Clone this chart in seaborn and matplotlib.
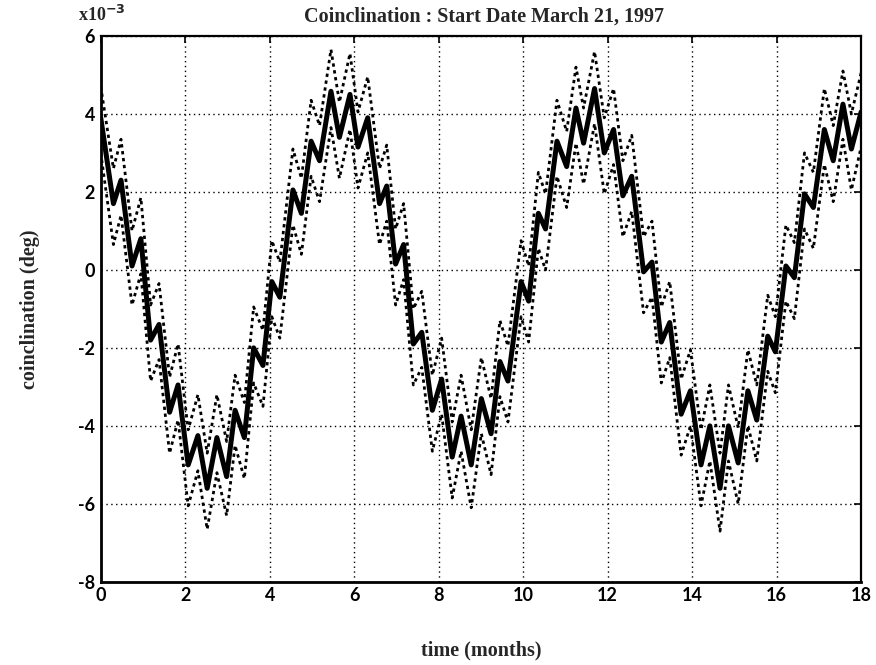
import numpy as np
import pandas as pd
import seaborn as sns
import matplotlib.pyplot as plt

# time (months) of each peak / trough
months = [0.00, 0.30, 0.48, 0.74, 0.95, 1.18, 1.38, 1.63, 1.83, 2.07, 2.30, 2.52, 2.75, 2.98,
          3.18, 3.40, 3.62, 3.84, 4.05, 4.24, 4.55, 4.75, 4.98, 5.18, 5.45, 5.65, 5.90, 6.09,
          6.32, 6.60, 6.77, 6.98, 7.17, 7.40, 7.60, 7.85, 8.07, 8.32, 8.53, 8.77, 9.01, 9.24,
          9.45, 9.64, 9.95, 10.13, 10.36, 10.53, 10.80, 11.03, 11.25, 11.43, 11.69, 11.92,
          12.14, 12.36, 12.57, 12.85, 13.05, 13.27, 13.47, 13.74, 13.96, 14.21, 14.42, 14.66,
          14.86, 15.09, 15.32, 15.53, 15.79, 15.97, 16.22, 16.42, 16.66, 16.87, 17.13, 17.34,
          17.57, 17.77, 18.00]

# nominal coinclination (x1e-3 deg)
nominal = [3.9, 1.7, 2.3, 0.1, 0.8, -1.8, -1.4, -3.65, -2.95, -5.0, -4.25, -5.6, -4.3, -5.3,
           -3.6, -4.3, -2.0, -2.45, -0.3, -0.7, 2.05, 1.45, 3.3, 2.8, 4.58, 3.4, 4.5, 3.15,
           3.9, 1.7, 2.15, 0.15, 0.65, -1.9, -1.6, -3.6, -2.8, -4.8, -3.75, -5.0, -3.3, -4.2,
           -2.35, -2.85, -0.3, -0.8, 1.45, 1.05, 3.3, 2.65, 4.15, 3.25, 4.65, 3.0,
           3.6, 1.9, 2.4, -0.05, 0.2, -1.85, -1.35, -3.7, -3.1, -5.0, -4.0, -5.6,
           -4.0, -4.95, -3.1, -3.85, -1.7, -2.1, 0.1, -0.2, 1.95, 1.6, 3.6, 2.8,
           4.25, 3.1, 4.05]

# upper and lower dotted bounds
upper = [4.7, 2.6, 3.35, 1.0, 1.85, -0.9, -0.35, -2.75, -1.9, -4.1, -3.2, -4.7, -3.2, -4.4,
         -2.7, -3.4, -0.95, -1.55, 0.75, 0.2, 3.1, 2.35, 4.35, 3.7, 5.65, 4.3, 5.55, 4.05,
         4.95, 2.6, 3.2, 1.05, 1.7, -1.0, -0.55, -2.7, -1.75, -3.9, -2.7, -4.1, -2.25, -3.3,
         -1.3, -1.95, 0.75, 0.1, 2.5, 1.95, 4.35, 3.55, 5.2, 4.15, 5.6, 3.9,
         4.65, 2.8, 3.45, 0.85, 1.25, -0.95, -0.3, -2.8, -2.05, -4.1, -2.95, -4.7,
         -2.95, -4.05, -2.05, -2.95, -0.65, -1.2, 1.15, 0.7, 3.0, 2.5, 4.65, 3.7,
         5.1, 4.0, 5.05]

lower = [3.0, 0.65, 1.4, -0.9, -0.1, -2.85, -2.3, -4.7, -3.85, -6.05, -5.15, -6.65, -5.2, -6.3,
         -4.5, -5.35, -2.9, -3.5, -1.2, -1.75, 1.15, 0.4, 2.4, 1.75, 3.65, 2.35, 3.6, 2.1,
         3.0, 0.65, 1.25, -0.9, -0.25, -2.95, -2.5, -4.65, -3.7, -5.85, -4.65, -6.1, -4.2, -5.25,
         -3.25, -3.9, -1.2, -1.85, 0.55, 0.0, 2.4, 1.6, 3.25, 2.2, 3.75, 1.95,
         2.7, 0.85, 1.5, -1.1, -0.7, -2.9, -2.25, -4.75, -4.0, -6.05, -4.9, -6.7,
         -4.9, -6.0, -4.0, -4.9, -2.6, -3.15, -0.8, -1.25, 1.05, 0.55, 2.7, 1.75,
         3.35, 2.05, 3.15]

x_ticks = [0, 2, 4, 6, 8, 10, 12, 14, 16, 18]
y_ticks = [-8, -6, -4, -2, 0, 2, 4, 6]

df = pd.DataFrame({'months': months, 'nominal': nominal, 'upper': upper, 'lower': lower})

sns.set_style('white')
plt.rcParams['font.family'] = ['Liberation Serif', 'DejaVu Serif']

fig = plt.figure(figsize=(8.76, 6.65), dpi=100)
ax = fig.add_axes([0.115, 0.125, 0.868, 0.821])

# dotted bounds first, nominal on top
for col in ['upper', 'lower']:
    sns.lineplot(data=df, x='months', y=col, ax=ax, color='black', linestyle=(0, (1.2, 1.3)),
                 linewidth=2.0, estimator=None, sort=False)
sns.lineplot(data=df, x='months', y='nominal', ax=ax, color='black', linewidth=3.6,
             estimator=None, sort=False)

ax.set_xlim(0, 18)
ax.set_ylim(-8, 6)
ax.set_xticks(x_ticks)
ax.set_yticks(y_ticks)
tick_font = dict(family='Lato', weight='bold', size=13)
ax.set_xticklabels([str(t) for t in x_ticks], fontdict=tick_font)
ax.set_yticklabels([str(t) for t in y_ticks], fontdict=tick_font)
ax.tick_params(direction='in', length=5, width=1.2, pad=4, top=True, right=True,
               labelcolor='black', color='black')

ax.grid(True, color='black', linestyle=(0, (1, 2.5)), linewidth=1.0)
for side, sp in ax.spines.items():
    sp.set_color('black')
    sp.set_linewidth(2.0 if side in ('left', 'bottom') else 1.6)

ax.set_xlabel('time (months)', fontsize=14.5, fontweight='bold')
ax.set_ylabel('coinclination (deg)', fontsize=14.5, fontweight='bold')
ax.xaxis.set_label_coords(0.5, -0.108)
ax.yaxis.set_label_coords(-0.08, 0.5)

fig.text(0.553, 0.975, 'Coinclination : Start Date March 21, 1997', ha='center', va='center',
         fontsize=14.5, fontweight='bold')
fig.text(0.089, 0.978, r'x10$^{\mathbf{-3}}$', ha='left', va='center', fontsize=13,
         fontweight='bold')

fig.savefig('out.png', dpi=100, facecolor='white')
